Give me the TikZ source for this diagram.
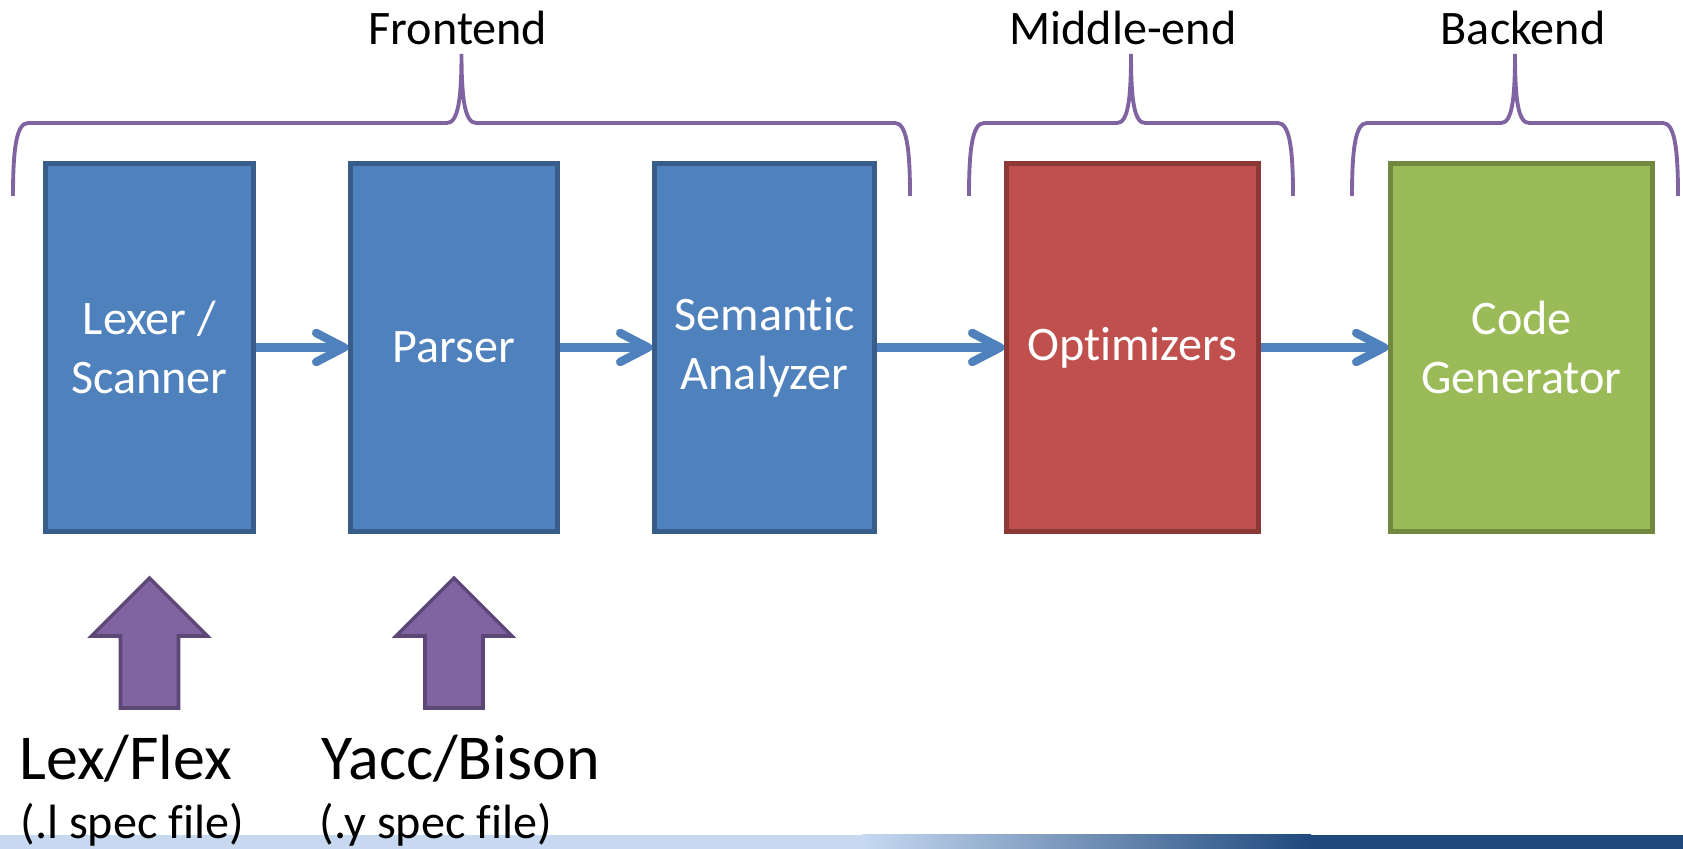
\documentclass[tikz,border=0pt]{standalone}
\usepackage{fontspec}
\setmainfont{Carlito}[Ligatures=NoCommon]
\usetikzlibrary{arrows.meta}
\definecolor{boxblue}{HTML}{4F81BD}
\definecolor{boxblueline}{HTML}{385D8A}
\definecolor{boxred}{HTML}{C0504D}
\definecolor{boxredline}{HTML}{8C3836}
\definecolor{boxgreen}{HTML}{9BBB59}
\definecolor{boxgreenline}{HTML}{71893F}
\definecolor{phase}{HTML}{8064A2}
\definecolor{phaseline}{HTML}{5C4776}
\definecolor{barlight}{HTML}{C6D9F1}
\definecolor{bardark}{HTML}{1F497D}
\begin{document}
\begin{tikzpicture}[
	stage/.style={line width=1.2pt,minimum height=3.68cm,inner sep=0pt,align=center,text=white,font=\fontsize{13.7}{16.8}\selectfont},
	bluestage/.style={stage,fill=boxblue,draw=boxblueline},
	flow/.style={draw=boxblue,line width=2.4pt,-{Straight Barb[length=2.8mm,width=2.9mm,round]}},
	brace/.style={draw=phase,line width=1.1pt},
	phasename/.style={anchor=base,font=\fontsize{13.7}{16}\selectfont},
	toolname/.style={anchor=base west,font=\fontsize{18.2}{20}\selectfont},
	toolnote/.style={anchor=base west,font=\fontsize{13.7}{16}\selectfont}]
	\useasboundingbox (0,0) rectangle (16.83,8.49);

	%bottom bar
	\fill[barlight] (0,0) rectangle (8.62,0.14);
	\shade[left color=barlight,right color=bardark] (8.62,0) rectangle (13.11,0.14);
	\fill[bardark] (13.11,0) rectangle (16.83,0.14);

	%stages
	\node[bluestage,minimum width=2.08cm] (lexer) at (1.495,5.015) {Lexer /\\Scanner};
	\node[bluestage,minimum width=2.07cm] (parser) at (4.54,5.015) {Parser};
	\node[bluestage,minimum width=2.2cm] (semantic) at (7.645,5.015) {Semantic\\Analyzer};
	\node[stage,fill=boxred,draw=boxredline,minimum width=2.52cm] (optimizer) at (11.325,5.015) {Optimizers};
	\node[stage,fill=boxgreen,draw=boxgreenline,minimum width=2.62cm] (codegen) at (15.215,5.015) {Code\\Generator};

	%flow arrows
	\draw[flow] (lexer) -- (parser);
	\draw[flow] (parser) -- (semantic);
	\draw[flow] (semantic) -- (optimizer);
	\draw[flow] (optimizer) -- (codegen);

	%braces
	\draw[brace] (0.13,6.53) .. controls (0.13,6.98) and (0.16,7.26) .. (0.28,7.26) -- (4.47,7.26)
	  .. controls (4.58,7.26) and (4.615,7.5) .. (4.615,7.95)
	  .. controls (4.615,7.5) and (4.65,7.26) .. (4.76,7.26) -- (8.95,7.26)
	  .. controls (9.07,7.26) and (9.10,6.98) .. (9.10,6.53); %frontend
	\draw[brace] (9.69,6.53) .. controls (9.69,6.98) and (9.72,7.26) .. (9.84,7.26) -- (11.17,7.26)
	  .. controls (11.28,7.26) and (11.31,7.5) .. (11.31,7.95)
	  .. controls (11.31,7.5) and (11.34,7.26) .. (11.45,7.26) -- (12.78,7.26)
	  .. controls (12.90,7.26) and (12.93,6.98) .. (12.93,6.53); %middle-end
	\draw[brace] (13.52,6.53) .. controls (13.52,6.98) and (13.55,7.26) .. (13.67,7.26) -- (15.01,7.26)
	  .. controls (15.12,7.26) and (15.15,7.5) .. (15.15,7.95)
	  .. controls (15.15,7.5) and (15.18,7.26) .. (15.29,7.26) -- (16.63,7.26)
	  .. controls (16.75,7.26) and (16.78,6.98) .. (16.78,6.53); %backend

	%phase labels
	\node[phasename] (frontlabel) at (4.58,8.04) {Frontend};
	\node[phasename] (midlabel) at (11.23,8.04) {Middle-end};
	\node[phasename] (backlabel) at (15.23,8.04) {Backend};

	%tool arrows
	\foreach \x in {1.495,4.54}
	  \draw[fill=phase,draw=phaseline,line width=1pt,line join=miter]
	    (\x-0.29,1.41) -- (\x+0.29,1.41) -- (\x+0.29,2.13) -- (\x+0.58,2.13) -- (\x,2.71)
	    -- (\x-0.58,2.13) -- (\x-0.29,2.13) -- cycle;

	%tool labels
	\node[toolname] (lexlabel) at (0.07,0.69) {Lex/Flex};
	\node[toolnote] (lexnote) at (0.08,0.10) {(.l spec file)};
	\node[toolname] (yacclabel) at (3.09,0.69) {Yacc/Bison};
	\node[toolnote] (yaccnote) at (3.07,0.10) {(.y spec file)};
\end{tikzpicture}
\end{document}
